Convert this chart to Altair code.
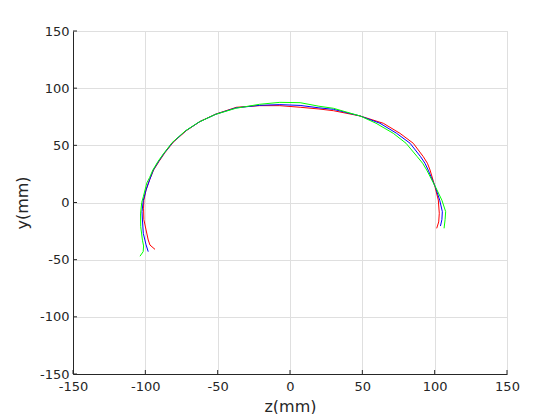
import altair as alt
import pandas as pd

# ---- data ----
red_z = [-93.3, -96.8, -98, -99.5, -101, -101.2, -101, -99.5, -97, -94.3, -90.5, -86.5, -80.5, -71.5, -62, -51, -37, -21, -7, 7, 20, 30, 48.4, 64.5, 76, 85.2, 92.2, 95, 96.8, 100.2, 102.5, 103.2, 102.8, 101.4]
red_y = [-41, -37.2, -32.8, -24, -15, -5, 2, 11, 20, 28.4, 36, 43.5, 53, 63, 71, 77.5, 83.3, 84.7, 84.7, 83.3, 81.8, 80.3, 75.7, 69.3, 60.5, 51.8, 40, 34.3, 28.4, 13.8, 2.2, -9.4, -17, -22.6]

blue_z = [-98, -99.5, -101.4, -102, -102.3, -101.4, -99.5, -97, -94.5, -90.8, -87, -81, -72, -62.5, -51.3, -37.3, -21, -7, 7, 20, 30, 48.4, 62.2, 73.7, 83, 90.3, 93.3, 95.5, 100.4, 103.5, 105.3, 105, 104]
blue_y = [-43, -37, -27, -15.3, -8, 2, 11, 20, 28.4, 36, 43, 52.7, 62.8, 70.6, 77.2, 82.8, 85, 85.6, 84.9, 82.8, 81.5, 75.7, 69.3, 60.5, 51.8, 40, 34.3, 28.4, 13.8, 2, -8, -15, -20.6]

green_z = [-103.7, -101.5, -101.2, -102, -103.2, -103.3, -102.5, -101.4, -99, -97, -94.8, -91.2, -87.5, -81.5, -72.5, -63, -51.6, -37.5, -21, -7, 7, 20, 30, 48.4, 59.5, 71.4, 80.2, 88, 91.7, 94.5, 100.5, 105, 107.6, 107.2, 106.5]
green_y = [-47, -43, -38, -33, -21, -10, 0, 5, 17, 22, 28.4, 36, 42.6, 52.4, 62.5, 70.3, 77, 82.4, 85.9, 87.6, 87.3, 84.2, 82.4, 75.7, 69.3, 60.5, 51.8, 40, 34.3, 28.4, 13.8, 2, -8, -15, -22.6]

series_names = ["red", "blue", "green"]
series_colors = ["#ff0000", "#0000ff", "#00ff00"]

tick_values = [-150, -100, -50, 0, 50, 100, 150]

rows = []
for name, zs, ys in [("red", red_z, red_y), ("blue", blue_z, blue_y), ("green", green_z, green_y)]:
    for i, (zv, yv) in enumerate(zip(zs, ys)):
        rows.append({"series": name, "z": zv, "y": yv, "i": i})
df = pd.DataFrame(rows)
ticks = pd.DataFrame({"v": tick_values})

W, H = 434, 343
FONT = "DejaVu Sans"
AX = "#262626"

xscale = alt.Scale(domain=[-150, 150], nice=False, zero=False)
yscale = alt.Scale(domain=[-150, 150], nice=False, zero=False)

common = dict(values=tick_values, grid=True, gridColor="#dfdfdf",
              domainColor=AX, domainWidth=1, ticks=False,
              labelFont=FONT, labelFontSize=13, labelColor=AX, labelFlush=False,
              labelOverlap=False, labelExpr="'' + datum.value",
              titleFont=FONT, titleFontSize=16, titleFontWeight="normal", titleColor=AX)
xaxis = alt.Axis(title="z(mm)", labelPadding=6, titlePadding=5, **common)
yaxis = alt.Axis(title="y(mm)", labelPadding=4, titlePadding=9, **common)

lines = alt.Chart(df).mark_line(strokeWidth=1, clip=True).encode(
    x=alt.X("z:Q", scale=xscale, axis=xaxis),
    y=alt.Y("y:Q", scale=yscale, axis=yaxis),
    color=alt.Color("series:N", scale=alt.Scale(domain=series_names, range=series_colors), legend=None),
    order="i:Q",
)

xticks = alt.Chart(ticks).mark_rule(color=AX, strokeWidth=1).encode(
    x=alt.X("v:Q", scale=xscale, axis=xaxis),
    y=alt.value(H), y2=alt.value(H - 4),
)
yticks = alt.Chart(ticks).mark_rule(color=AX, strokeWidth=1).encode(
    y=alt.Y("v:Q", scale=yscale, axis=yaxis),
    x=alt.value(0), x2=alt.value(4),
)

chart = alt.layer(lines, xticks, yticks).properties(
    width=W, height=H,
    autosize=alt.AutoSizeParams(type="none"),
    padding={"left": 65, "top": 23, "right": 45, "bottom": 40},
).configure_view(strokeWidth=0).configure(background="white")

chart.save("out.html", embed_options={"renderer": "svg", "actions": False})
